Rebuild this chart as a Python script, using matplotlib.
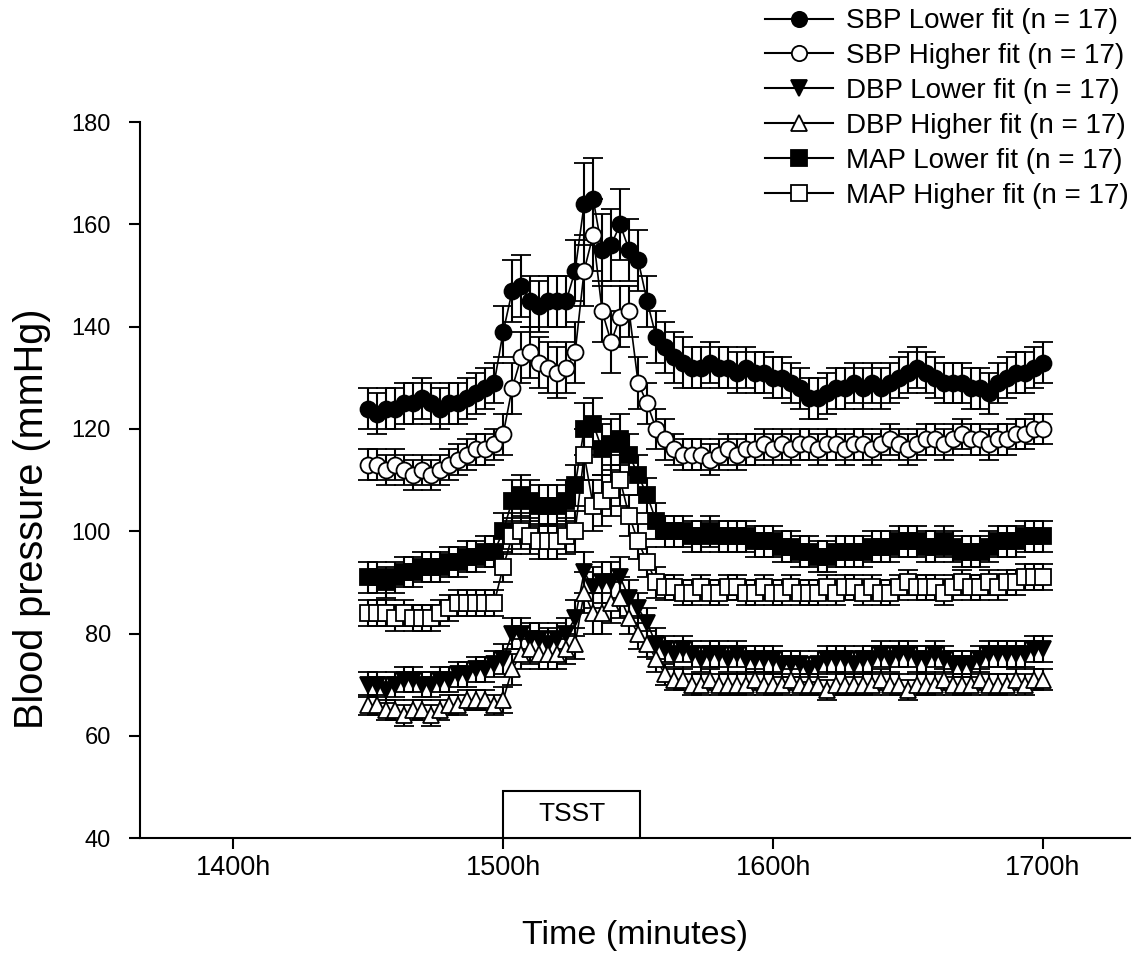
import matplotlib
matplotlib.use("Agg")
import matplotlib.pyplot as plt
from matplotlib.patches import Rectangle
from matplotlib.lines import Line2D

plt.rcParams['font.family'] = ['Liberation Sans', 'DejaVu Sans']

# minutes after 1400h, one reading every 2 min from 1430h to 1700h
times = list(range(30, 182, 2))

sbp_lo = [124, 123, 124, 124, 125, 125, 126, 125, 124, 125, 125, 126, 127, 128, 129,
          139, 147, 148, 145, 144, 145, 145, 145, 151, 164, 165, 155, 156, 160, 155,
          153, 145, 138, 136, 134, 133,
          132, 132, 133, 132, 132, 131, 132, 131, 131, 130, 130, 129, 128, 126, 126,
          127, 128, 128, 129, 128, 129, 128, 129, 130, 131, 132, 131, 130, 129, 129,
          129, 128, 128, 127, 129, 130, 131, 131, 132, 133]
sbp_hi = [113, 113, 112, 113, 112, 111, 112, 111, 112, 113, 114, 115, 116, 116, 117,
          119, 128, 134, 135, 133, 132, 131, 132, 135, 151, 158, 143, 137, 142, 143,
          129, 125, 120, 118, 116, 115,
          115, 115, 114, 115, 116, 115, 116, 116, 117, 116, 117, 116, 117, 117, 116,
          117, 117, 116, 117, 117, 116, 117, 118, 117, 116, 117, 118, 118, 117, 118,
          119, 118, 118, 117, 118, 118, 119, 119, 120, 120]
dbp_lo = [70, 70, 69, 70, 71, 71, 70, 70, 71, 71, 72, 72, 73, 73, 74,
          75, 80, 80, 79, 79, 78, 79, 80, 83, 92, 89, 90, 90, 91, 87,
          85, 82, 78, 77, 76, 77,
          76, 75, 76, 76, 75, 76, 75, 75, 75, 75, 74, 74, 74, 73, 74,
          75, 75, 75, 74, 75, 75, 76, 75, 76, 76, 75, 75, 76, 75, 74,
          74, 74, 75, 76, 76, 76, 76, 76, 77, 77]
dbp_hi = [66, 66, 65, 65, 64, 65, 65, 64, 65, 66, 66, 67, 67, 67, 66,
          67, 73, 76, 77, 76, 76, 76, 77, 78, 88, 84, 84, 86, 87, 83,
          80, 78, 75, 72, 71, 71,
          70, 70, 71, 70, 70, 70, 70, 71, 70, 70, 70, 71, 70, 70, 70,
          69, 70, 70, 70, 70, 70, 71, 70, 70, 69, 70, 70, 70, 71, 70,
          70, 70, 71, 70, 70, 70, 71, 70, 71, 71]
map_lo = [91, 91, 90, 91, 92, 92, 93, 93, 93, 94, 94, 95, 95, 96, 96,
          100, 106, 107, 106, 105, 105, 105, 106, 109, 120, 121, 116, 117, 118, 115,
          111, 107, 102, 100, 100, 100,
          99, 99, 100, 99, 99, 99, 99, 98, 98, 98, 97, 97, 96, 96, 95,
          95, 96, 96, 96, 96, 97, 97, 97, 98, 98, 98, 97, 97, 98, 97,
          96, 96, 96, 97, 98, 98, 98, 99, 99, 99]
map_hi = [84, 84, 84, 83, 84, 83, 83, 83, 84, 85, 86, 86, 86, 86, 86,
          93, 99, 100, 99, 98, 98, 98, 99, 100, 115, 105, 106, 108, 110, 103,
          98, 94, 90, 89, 89, 88,
          88, 89, 88, 88, 89, 89, 88, 88, 89, 88, 88, 89, 88, 88, 88,
          89, 88, 89, 89, 88, 89, 88, 88, 89, 90, 89, 89, 89, 88, 89,
          90, 89, 89, 90, 89, 90, 90, 91, 91, 91]

# standard errors
sbp_lo_se = [4] * 15 + [5, 6, 6, 5, 5, 5, 5, 5, 6, 8, 8, 7, 7, 7, 6, 6, 5, 5, 5, 5, 5] + [4] * 40
sbp_hi_se = [3] * 15 + [4, 5, 5, 5, 5, 5, 5, 5, 6, 7, 7, 6, 6, 6, 5, 5, 4, 4, 4, 3, 3] + [3] * 40
dbp_lo_se = [2.5] * 15 + [3, 3, 3, 3, 3, 3, 3, 3, 3.5, 4, 4, 4, 4, 4, 3.5, 3, 3, 3, 2.5, 2.5, 2.5] + [2.5] * 40
dbp_hi_se = [2] * 15 + [2.5, 3, 3, 3, 3, 3, 3, 3, 3, 4, 4, 4, 4, 4, 3, 3, 2.5, 2.5, 2, 2, 2] + [2] * 40
map_lo_se = [3] * 15 + [3.5, 4, 4, 4, 4, 4, 4, 4, 4, 5, 5, 5, 5, 5, 4, 4, 3.5, 3.5, 3, 3, 3] + [3] * 40
map_hi_se = [2.5] * 15 + [3, 3.5, 3.5, 3.5, 3.5, 3.5, 3.5, 3.5, 4, 5, 5, 5, 5, 5, 4, 3.5, 3, 3, 2.5, 2.5, 2.5] + [2.5] * 40

series = [
    ("SBP Lower fit (n = 17)", sbp_lo, sbp_lo_se, "o", "black"),
    ("SBP Higher fit (n = 17)", sbp_hi, sbp_hi_se, "o", "white"),
    ("DBP Lower fit (n = 17)", dbp_lo, dbp_lo_se, "v", "black"),
    ("DBP Higher fit (n = 17)", dbp_hi, dbp_hi_se, "^", "white"),
    ("MAP Lower fit (n = 17)", map_lo, map_lo_se, "s", "black"),
    ("MAP Higher fit (n = 17)", map_hi, map_hi_se, "s", "white"),
]

tick_pos = [0, 60, 120, 180]
tick_labels = ["1400h", "1500h", "1600h", "1700h"]

fig = plt.figure(figsize=(11.39, 9.55), dpi=100)
ax = fig.add_axes([0.123, 0.1225, 0.869, 0.7495])

handles = []
for label, vals, se, mk, face in series:
    ax.errorbar(times, vals, yerr=se, fmt=mk, linestyle='-', color='black',
                mfc=face, mec='black', ms=11.5, mew=1.3, lw=1.2,
                ecolor='black', elinewidth=1.5, capsize=7, capthick=1.5)
    handles.append(Line2D([], [], color='black', lw=1.5, marker=mk, mfc=face,
                          mec='black', ms=11, mew=1.3))

# TSST box
ax.add_patch(Rectangle((60, 40), 30.5, 9.1, facecolor='white', edgecolor='black',
                       lw=1.5, zorder=5, clip_on=False))
ax.text(75.2, 44.6, "TSST", ha='center', va='center', fontsize=19, zorder=6)

ax.set_xlim(-20.7, 199.3)
ax.set_ylim(40, 180)
ax.set_yticks(range(40, 181, 20))
ax.set_xticks(tick_pos)
ax.set_xticklabels(tick_labels)
ax.spines['top'].set_visible(False)
ax.spines['right'].set_visible(False)
ax.spines['left'].set_linewidth(1.5)
ax.spines['bottom'].set_linewidth(1.5)
ax.tick_params(direction='out', length=8, width=1.5)
ax.tick_params(axis='x', pad=4, labelsize=19.5)
ax.tick_params(axis='y', pad=13, labelsize=17)
ax.set_xlabel("Time (minutes)", fontsize=24.5)
ax.set_ylabel("Blood pressure (mmHg)", fontsize=28.5)
ax.xaxis.set_label_coords(0.5, -0.115)
ax.yaxis.set_label_coords(-0.09, 0.446)

leg = fig.legend(handles, [s[0] for s in series], loc='upper left',
                 bbox_to_anchor=(0.662, 1.003), frameon=False, fontsize=20,
                 handlelength=2.45, handletextpad=0.45, labelspacing=0.32,
                 borderaxespad=0)

fig.savefig("out.png", dpi=100)
